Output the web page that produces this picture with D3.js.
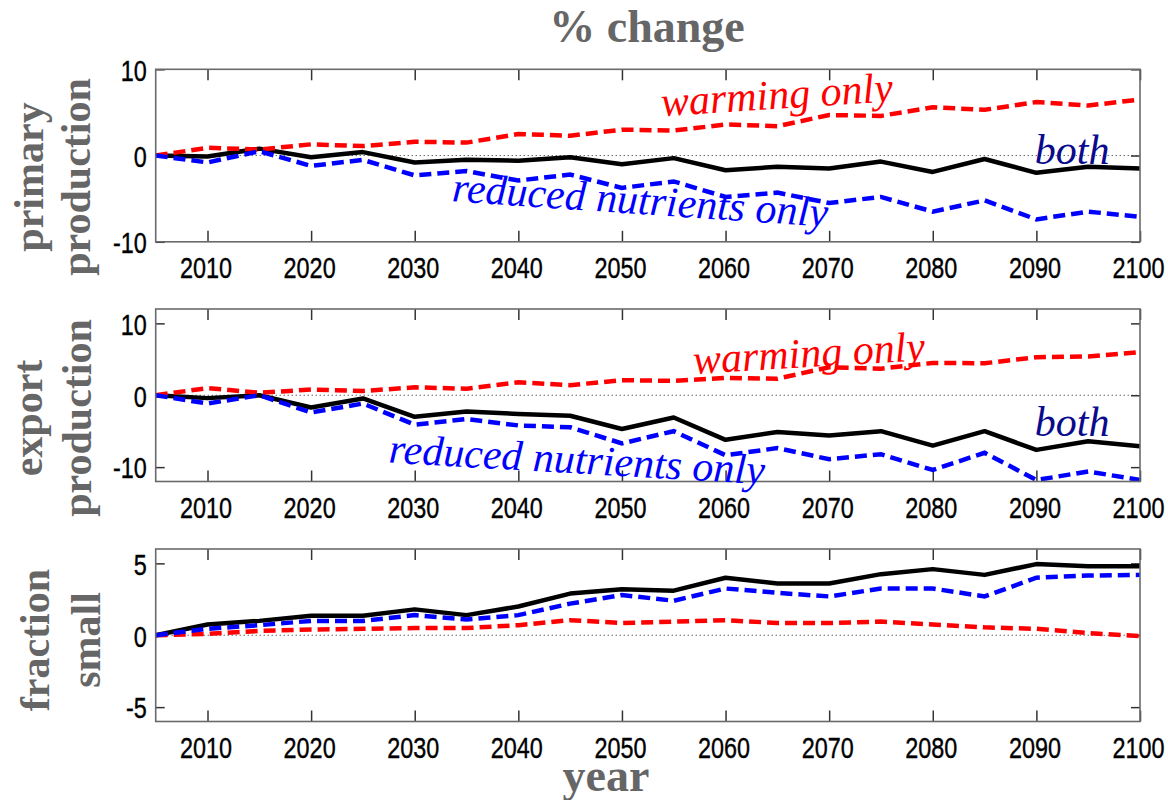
<!DOCTYPE html>
<html>
<head>
<meta charset="utf-8">
<script src="https://cdn.jsdelivr.net/npm/d3@7"></script>
<style>
body { margin: 0; background: #fff; }
svg { display: block; }
.tick text { font-family: "Liberation Sans", Arial, sans-serif; font-size: 30px; fill: #000; stroke: #000; stroke-width: 0.4; }
.tick line { stroke: #333; stroke-width: 1.5; }
.title { font-family: "Liberation Serif", "Times New Roman", serif; font-weight: bold; fill: #666; }
.series-label { font-family: "Liberation Serif", "Times New Roman", serif; font-style: italic; font-size: 42px; }
</style>
</head>
<body>
<svg id="chart" width="1168" height="800"></svg>
<script>
// years (5-yearly model output)
const years = [2005, 2010, 2015, 2020, 2025, 2030, 2035, 2040, 2045, 2050,
               2055, 2060, 2065, 2070, 2075, 2080, 2085, 2090, 2095, 2100]
const xTicks = [2010, 2020, 2030, 2040, 2050, 2060, 2070, 2080, 2090, 2100]

// primary production, % change
const ppBoth      = [0, -0.1, 0.8, -0.2, 0.4, -0.8, -0.5, -0.6, -0.2, -1.0, -0.3, -1.7, -1.3, -1.5, -0.7, -1.9, -0.4, -2.0, -1.3, -1.5]
const ppWarming   = [0, 0.9, 0.7, 1.3, 1.1, 1.6, 1.5, 2.5, 2.3, 3.0, 2.9, 3.6, 3.4, 4.7, 4.6, 5.6, 5.3, 6.2, 5.8, 6.5]
const ppNutrients = [0, -0.8, 0.5, -1.2, -0.5, -2.3, -1.8, -2.9, -2.2, -3.75, -3.0, -4.8, -4.3, -5.5, -4.8, -6.5, -5.2, -7.4, -6.5, -7.1]

// export production, % change
const epBoth      = [0, -0.4, 0, -1.7, -0.45, -3.0, -2.25, -2.6, -2.85, -4.7, -3.1, -6.2, -5.1, -5.6, -5.0, -7.0, -5.0, -7.6, -6.4, -7.1]
const epWarming   = [0, 1.0, 0.35, 0.8, 0.6, 1.1, 0.9, 1.8, 1.4, 2.1, 2.0, 2.4, 2.3, 3.9, 3.7, 4.5, 4.45, 5.3, 5.4, 6.0]
const epNutrients = [0, -1.15, 0, -2.4, -1.15, -4.1, -3.3, -4.2, -4.45, -6.7, -5.0, -8.35, -7.35, -8.9, -8.2, -10.4, -8.0, -11.8, -10.6, -11.8]

// fraction small, % change
const fsBoth      = [0, 0.75, 1.0, 1.35, 1.35, 1.8, 1.4, 2.0, 2.9, 3.2, 3.1, 4.0, 3.6, 3.6, 4.25, 4.6, 4.2, 4.95, 4.8, 4.8]
const fsWarming   = [0, 0.1, 0.3, 0.4, 0.45, 0.5, 0.5, 0.7, 1.05, 0.85, 0.95, 1.05, 0.85, 0.85, 0.95, 0.75, 0.55, 0.45, 0.15, -0.05]
const fsNutrients = [0, 0.45, 0.7, 1.0, 1.0, 1.4, 1.1, 1.4, 2.2, 2.8, 2.4, 3.25, 2.95, 2.7, 3.25, 3.25, 2.7, 4.0, 4.15, 4.2]

const panels = [
    { top: 69.3, domain: [-10, 10], ticks: [-10, 0, 10], label: ["primary", "production"],
      labelX: [43, 90], labelY: 177,
      series: { both: ppBoth, warming: ppWarming, nutrients: ppNutrients },
      notes: [
          { text: "warming only", year: 2053.85, value: 4.56, angle: -3.7, color: "#ff0000" },
          { text: "both", year: 2089.84, value: -1.01, angle: 0, color: "#0a0a8c" },
          { text: "reduced nutrients only", year: 2033.55, value: -5.3, angle: 3.9, color: "#0000ff" }
      ] },
    { top: 309, domain: [-12, 12], ticks: [-10, 0, 10], label: ["export", "production"],
      labelX: [42, 91], labelY: 418,
      series: { both: epBoth, warming: epWarming, nutrients: epNutrients },
      notes: [
          { text: "warming only", year: 2056.94, value: 2.96, angle: -3.4, color: "#ff0000" },
          { text: "both", year: 2089.84, value: -5.66, angle: 0, color: "#0a0a8c" },
          { text: "reduced nutrients only", year: 2027.45, value: -9.37, angle: 3.3, color: "#0000ff" }
      ] },
    { top: 549, domain: [-6, 6], ticks: [-5, 0, 5], label: ["fraction", "small"],
      labelX: [49, 100], labelY: 640,
      series: { both: fsBoth, warming: fsWarming, nutrients: fsNutrients },
      notes: [] }
]

const svg = d3.select("#chart")
const left = 155.7
const width = 1140 - left
const height = 172.5

const x = d3.scaleLinear().domain([2005, 2100]).range([0, width])

// the original tick font is a narrow Helvetica: squeeze the glyphs
const squeeze = 0.78

svg.append("text")
    .attr("class", "title")
    .attr("x", 647)
    .attr("y", 42)
    .attr("text-anchor", "middle")
    .style("font-size", "46px")
    .text("% change")

svg.append("text")
    .attr("class", "title")
    .attr("x", 606)
    .attr("y", 791)
    .attr("text-anchor", "middle")
    .style("font-size", "46px")
    .text("year")

panels.forEach(p => {
    const y = d3.scaleLinear().domain(p.domain).range([height, 0])
    const g = svg.append("g").attr("transform", `translate(${left}, ${p.top})`)

    // zero reference
    g.append("line")
        .attr("x1", x(2005)).attr("x2", x(2100))
        .attr("y1", y(0)).attr("y2", y(0))
        .attr("stroke", "#222")
        .attr("stroke-width", 1)
        .attr("stroke-dasharray", "1,3")

    // axes, ticks point inwards
    const xb = g.append("g").attr("transform", `translate(0, ${height})`)
        .call(d3.axisBottom(x).tickValues(xTicks).tickSizeInner(-11).tickSizeOuter(0).tickPadding(15.3).tickFormat(d => String(d)))
    xb.selectAll("text")
        .attr("x", -2 / squeeze)
        .attr("transform", `scale(${squeeze}, 1)`)
    g.append("g")
        .call(d3.axisTop(x).tickValues(xTicks).tickSizeInner(-11).tickSizeOuter(0).tickFormat(""))
    const yl = g.append("g")
        .call(d3.axisLeft(y).tickValues(p.ticks).tickSizeInner(-9).tickSizeOuter(0).tickFormat(d => String(d)))
    yl.selectAll("text")
        .attr("x", -9 / squeeze)
        .attr("dy", "0.36em")
        .attr("transform", `scale(${squeeze}, 1)`)
    g.append("g").attr("transform", `translate(${width}, 0)`)
        .call(d3.axisRight(y).tickValues(p.ticks).tickSizeInner(-9).tickSizeOuter(0).tickFormat(""))
    g.selectAll(".domain").remove()

    // series
    const path = d3.line().x((d, i) => x(years[i])).y(d => y(d))
    g.append("path").datum(p.series.both)
        .attr("d", path).attr("fill", "none")
        .attr("stroke", "#000").attr("stroke-width", 4.5).attr("stroke-linejoin", "round")
    g.append("path").datum(p.series.warming)
        .attr("d", path).attr("fill", "none")
        .attr("stroke", "#ff0000").attr("stroke-width", 4.5).attr("stroke-dasharray", "12,6")
    g.append("path").datum(p.series.nutrients)
        .attr("d", path).attr("fill", "none")
        .attr("stroke", "#0000ff").attr("stroke-width", 4.5).attr("stroke-dasharray", "12,6")

    // frame
    g.append("rect")
        .attr("width", width).attr("height", height)
        .attr("fill", "none").attr("stroke", "#6a6a6a").attr("stroke-width", 1.6)

    // in-plot labels
    p.notes.forEach(n => {
        g.append("text")
            .attr("class", "series-label")
            .attr("transform", `translate(${x(n.year)}, ${y(n.value)}) rotate(${n.angle})`)
            .attr("fill", n.color)
            .text(n.text)
    })

    // y label, two lines
    p.label.forEach((t, i) => {
        svg.append("text")
            .attr("class", "title")
            .attr("transform", `translate(${p.labelX[i]}, ${p.labelY}) rotate(-90)`)
            .attr("text-anchor", "middle")
            .style("font-size", "42px")
            .text(t)
    })
})
</script>
</body>
</html>
